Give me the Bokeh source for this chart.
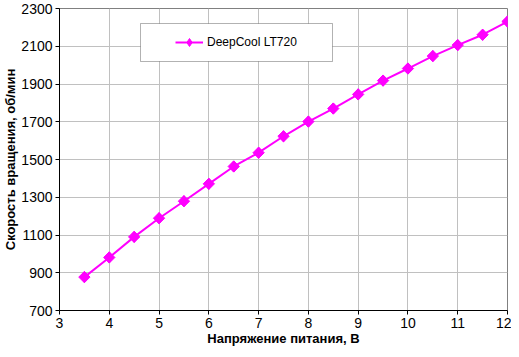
import numpy as np
from bokeh.plotting import figure
from bokeh.models import Range1d, FixedTicker, Legend, LegendItem, BoxAnnotation
from bokeh.embed import file_html
from bokeh.resources import INLINE

# data
voltage = [3.5, 4, 4.5, 5, 5.5, 6, 6.5, 7, 7.5, 8, 8.5, 9, 9.5, 10, 10.5, 11, 11.5, 12]
rpm = [877, 981, 1090, 1189, 1279, 1371, 1463, 1536, 1623, 1701, 1770, 1845, 1918, 1982, 2048, 2106, 2161, 2231]
series_name = "DeepCool LT720"
x_ticks = [3, 4, 5, 6, 7, 8, 9, 10, 11, 12]
y_ticks = [700, 900, 1100, 1300, 1500, 1700, 1900, 2100, 2300]
x_title = "Напряжение питания, В"
y_title = "Скорость вращения, об/мин"

FONT = "Arial"
MAGENTA = "#FF00FF"

p = figure(width=511, height=349,
           x_range=Range1d(3, 12), y_range=Range1d(700, 2300),
           output_backend="svg", toolbar_location=None,
           min_border_left=0, min_border_right=4, min_border_top=8, min_border_bottom=39,
           background_fill_color="white", border_fill_color="white")

p.outline_line_color = "#808080"
p.outline_line_width = 1

for ax in (p.xaxis[0], p.yaxis[0]):
    ax.axis_line_color = "black"
    ax.major_tick_line_color = "black"
    ax.minor_tick_line_color = None
    ax.major_tick_in = 0
    ax.major_tick_out = 4
    ax.major_label_text_font = FONT
    ax.major_label_text_font_size = "14px"
    ax.major_label_text_color = "black"
    ax.axis_label_text_font = FONT
    ax.axis_label_text_font_size = "13px"
    ax.axis_label_text_font_style = "bold"
    ax.axis_label_text_color = "black"

p.xaxis.ticker = FixedTicker(ticks=x_ticks)
p.yaxis.ticker = FixedTicker(ticks=y_ticks)
p.xaxis.axis_label = x_title
p.yaxis.axis_label = y_title
p.xaxis.major_label_standoff = 3
p.xaxis.axis_label_standoff = 0
p.yaxis.major_label_standoff = 3
p.yaxis.axis_label_standoff = 0

p.xgrid.ticker = FixedTicker(ticks=x_ticks)
p.ygrid.ticker = FixedTicker(ticks=y_ticks)
p.grid.grid_line_color = "#c0c0c0"
p.grid.grid_line_width = 1

line_r = p.line(voltage, rpm, line_color=MAGENTA, line_width=2)
# diamond markers used for the legend swatch; fully covered by the rotated squares
legend_mark = p.scatter(voltage, rpm, marker="diamond", size=11,
                        fill_color=MAGENTA, line_color=MAGENTA)
mark_r = p.scatter(voltage, rpm, marker="square", angle=np.pi / 4, size=8,
                   fill_color=MAGENTA, line_color=MAGENTA)

box = BoxAnnotation(left=140, right=332, top=23, bottom=61,
                    left_units="canvas", right_units="canvas",
                    top_units="canvas", bottom_units="canvas",
                    fill_color="white", fill_alpha=1.0,
                    line_color="black", line_width=1)
p.add_layout(box)

legend = Legend(items=[LegendItem(label=series_name, renderers=[line_r, legend_mark])],
                location=(106, 248), padding=10, margin=0, spacing=0,
                glyph_width=28, glyph_height=20, label_standoff=4,
                label_text_font=FONT, label_text_font_size="12px",
                label_text_color="black",
                border_line_alpha=0, background_fill_alpha=0)
p.add_layout(legend, "center")

open("out.html", "w").write(file_html(p, INLINE))
